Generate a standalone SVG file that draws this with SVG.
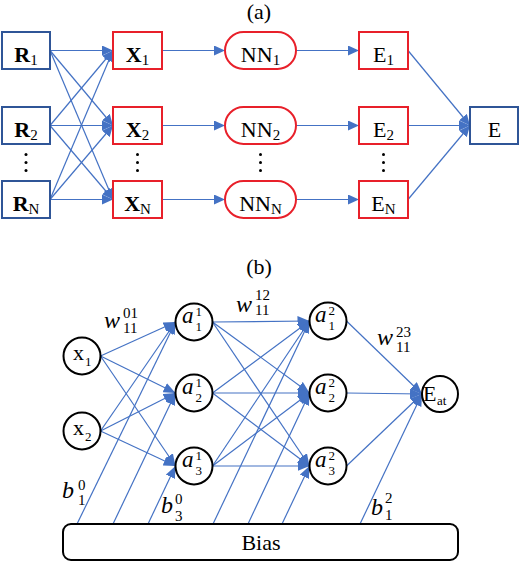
<svg xmlns="http://www.w3.org/2000/svg" width="520" height="562" viewBox="0 0 520 562">
<defs>
<style>
.bb{fill:#fff;stroke:#2F5597;stroke-width:2}
.rb{fill:#fff;stroke:#E8202A;stroke-width:2}
.cn{fill:#fff;stroke:#000;stroke-width:2}
.ln{stroke:#4472C4;stroke-width:1.2;fill:none;marker-end:url(#ah)}
.lnb{stroke:#4472C4;stroke-width:1.2;fill:none;marker-end:url(#ah2)}
.t{font-family:"Liberation Serif","Times New Roman","DejaVu Serif",serif;font-size:22px;fill:#000}
.tb{font-weight:bold}
.s{font-size:15px}
.mi{font-family:"Liberation Serif","Times New Roman","DejaVu Serif",serif;font-style:italic;font-size:24px;fill:#000}
.md{font-family:"Liberation Serif","Times New Roman","DejaVu Serif",serif;font-size:15px;fill:#000}
.ai{font-family:"Liberation Serif","Times New Roman","DejaVu Serif",serif;font-style:italic;font-size:23px;fill:#000}
.ad{font-family:"Liberation Serif","Times New Roman","DejaVu Serif",serif;font-size:13px;fill:#000}
.dot{fill:#000}
</style>
<marker id="ah" markerWidth="11" markerHeight="10" refX="11" refY="5" orient="auto" markerUnits="userSpaceOnUse"><path d="M0,0 L11,5 L0,10 z" fill="#4472C4"/></marker>
<marker id="ah2" markerWidth="12" markerHeight="10" refX="12" refY="5" orient="auto" markerUnits="userSpaceOnUse"><path d="M0,0 L12,5 L0,10 z" fill="#4472C4"/></marker>
</defs>
<rect width="520" height="562" fill="#fff"/>

<text class="t" x="259" y="19" text-anchor="middle" font-size="20">(a)</text>
<text class="t" x="259" y="274" text-anchor="middle" font-size="20">(b)</text>

<g id="connectors">
<line class="ln" x1="50" y1="50.5" x2="113" y2="50.5"/>
<line class="ln" x1="50" y1="50.5" x2="113" y2="125.5"/>
<line class="ln" x1="50" y1="50.5" x2="113" y2="199.5"/>
<line class="ln" x1="50" y1="125.5" x2="113" y2="50.5"/>
<line class="ln" x1="50" y1="125.5" x2="113" y2="125.5"/>
<line class="ln" x1="50" y1="125.5" x2="113" y2="199.5"/>
<line class="ln" x1="50" y1="199.5" x2="113" y2="50.5"/>
<line class="ln" x1="50" y1="199.5" x2="113" y2="125.5"/>
<line class="ln" x1="50" y1="199.5" x2="113" y2="199.5"/>
<line class="ln" x1="162" y1="50.5" x2="225" y2="50.5"/>
<line class="ln" x1="162" y1="125.5" x2="225" y2="125.5"/>
<line class="ln" x1="162" y1="199.5" x2="225" y2="199.5"/>
<line class="ln" x1="296" y1="50.5" x2="359" y2="50.5"/>
<line class="ln" x1="296" y1="125.5" x2="359" y2="125.5"/>
<line class="ln" x1="296" y1="199.5" x2="359" y2="199.5"/>
<line class="ln" x1="408" y1="50.5" x2="470" y2="125.5"/>
<line class="ln" x1="408" y1="125.5" x2="470" y2="125.5"/>
<line class="ln" x1="408" y1="199.5" x2="470" y2="125.5"/>

<line class="lnb" x1="100.5" y1="356" x2="175.5" y2="322"/>
<line class="lnb" x1="100.5" y1="356" x2="175.5" y2="393"/>
<line class="lnb" x1="100.5" y1="356" x2="175.5" y2="466"/>
<line class="lnb" x1="100.5" y1="431" x2="175.5" y2="322"/>
<line class="lnb" x1="100.5" y1="431" x2="175.5" y2="393"/>
<line class="lnb" x1="100.5" y1="431" x2="175.5" y2="466"/>
<line class="lnb" x1="212.5" y1="322" x2="309.5" y2="321"/>
<line class="lnb" x1="212.5" y1="322" x2="309.5" y2="393"/>
<line class="lnb" x1="212.5" y1="322" x2="309.5" y2="466"/>
<line class="lnb" x1="212.5" y1="393" x2="309.5" y2="321"/>
<line class="lnb" x1="212.5" y1="393" x2="309.5" y2="393"/>
<line class="lnb" x1="212.5" y1="393" x2="309.5" y2="466"/>
<line class="lnb" x1="212.5" y1="466" x2="309.5" y2="321"/>
<line class="lnb" x1="212.5" y1="466" x2="309.5" y2="393"/>
<line class="lnb" x1="212.5" y1="466" x2="309.5" y2="466"/>
<line class="lnb" x1="346.5" y1="321" x2="422" y2="394"/>
<line class="lnb" x1="346.5" y1="393" x2="422" y2="394"/>
<line class="lnb" x1="346.5" y1="466" x2="422" y2="394"/>
<line class="lnb" x1="77" y1="524" x2="175.5" y2="322"/>
<line class="lnb" x1="113" y1="524" x2="175.5" y2="393"/>
<line class="lnb" x1="148" y1="524" x2="175.5" y2="466"/>
<line class="lnb" x1="213" y1="524" x2="309.5" y2="321"/>
<line class="lnb" x1="248" y1="524" x2="309.5" y2="393"/>
<line class="lnb" x1="282" y1="524" x2="309.5" y2="466"/>
<line class="lnb" x1="360" y1="524" x2="422" y2="394"/>
</g>

<g id="R1"><rect class="bb" x="2" y="32" width="48" height="37"/><text class="t" x="26" y="62" text-anchor="middle"><tspan class="tb">R</tspan><tspan class="s" dy="3">1</tspan></text></g>
<g id="R2"><rect class="bb" x="2" y="107" width="48" height="37"/><text class="t" x="26" y="137" text-anchor="middle"><tspan class="tb">R</tspan><tspan class="s" dy="3">2</tspan></text></g>
<g id="RN"><rect class="bb" x="2" y="181" width="48" height="37"/><text class="t" x="26" y="211" text-anchor="middle"><tspan class="tb">R</tspan><tspan class="s" dy="3">N</tspan></text></g>

<g id="X1"><rect class="rb" x="113" y="32" width="49" height="37"/><text class="t" x="137.5" y="62" text-anchor="middle"><tspan class="tb">X</tspan><tspan class="s" dy="3">1</tspan></text></g>
<g id="X2"><rect class="rb" x="113" y="107" width="49" height="37"/><text class="t" x="137.5" y="137" text-anchor="middle"><tspan class="tb">X</tspan><tspan class="s" dy="3">2</tspan></text></g>
<g id="XN"><rect class="rb" x="113" y="181" width="49" height="37"/><text class="t" x="137.5" y="211" text-anchor="middle"><tspan class="tb">X</tspan><tspan class="s" dy="3">N</tspan></text></g>

<g id="NN1"><rect class="rb" x="225" y="32" width="71" height="37" rx="18.5"/><text class="t" x="260.5" y="62" text-anchor="middle">NN<tspan class="s" dy="3">1</tspan></text></g>
<g id="NN2"><rect class="rb" x="225" y="107" width="71" height="37" rx="18.5"/><text class="t" x="260.5" y="137" text-anchor="middle">NN<tspan class="s" dy="3">2</tspan></text></g>
<g id="NNN"><rect class="rb" x="225" y="181" width="71" height="37" rx="18.5"/><text class="t" x="260.5" y="211" text-anchor="middle">NN<tspan class="s" dy="3">N</tspan></text></g>

<g id="E1"><rect class="rb" x="359" y="32" width="49" height="37"/><text class="t" x="383.5" y="62" text-anchor="middle">E<tspan class="s" dy="3">1</tspan></text></g>
<g id="E2"><rect class="rb" x="359" y="107" width="49" height="37"/><text class="t" x="383.5" y="137" text-anchor="middle">E<tspan class="s" dy="3">2</tspan></text></g>
<g id="EN"><rect class="rb" x="359" y="181" width="49" height="37"/><text class="t" x="383.5" y="211" text-anchor="middle">E<tspan class="s" dy="3">N</tspan></text></g>

<g id="E"><rect class="bb" x="470" y="107" width="48" height="37"/><text class="t" x="494.5" y="137" text-anchor="middle">E</text></g>

<g id="dots">
<circle class="dot" cx="26" cy="154.5" r="1.5"/><circle class="dot" cx="26" cy="162.5" r="1.5"/><circle class="dot" cx="26" cy="170.5" r="1.5"/>
<circle class="dot" cx="137.5" cy="154.5" r="1.5"/><circle class="dot" cx="137.5" cy="162.5" r="1.5"/><circle class="dot" cx="137.5" cy="170.5" r="1.5"/>
<circle class="dot" cx="260.5" cy="154.5" r="1.5"/><circle class="dot" cx="260.5" cy="162.5" r="1.5"/><circle class="dot" cx="260.5" cy="170.5" r="1.5"/>
<circle class="dot" cx="383.5" cy="154.5" r="1.5"/><circle class="dot" cx="383.5" cy="162.5" r="1.5"/><circle class="dot" cx="383.5" cy="170.5" r="1.5"/>
</g>

<g id="x1"><circle class="cn" cx="82" cy="356" r="18.5"/><text class="t" x="73" y="360">x</text><text class="ad" x="85" y="366" font-size="14">1</text></g>
<g id="x2"><circle class="cn" cx="82" cy="431" r="18.5"/><text class="t" x="73" y="435">x</text><text class="ad" x="85" y="441" font-size="14">2</text></g>

<g id="a11"><circle class="cn" cx="194" cy="322" r="18.5"/><text class="ai" x="182" y="323">a</text><text class="ad" x="195.5" y="316">1</text><text class="ad" x="195.5" y="331">1</text></g>
<g id="a21"><circle class="cn" cx="194" cy="393" r="18.5"/><text class="ai" x="182" y="394">a</text><text class="ad" x="195.5" y="387">1</text><text class="ad" x="195.5" y="402">2</text></g>
<g id="a31"><circle class="cn" cx="194" cy="466" r="18.5"/><text class="ai" x="182" y="467">a</text><text class="ad" x="195.5" y="460">1</text><text class="ad" x="195.5" y="475">3</text></g>

<g id="a12"><circle class="cn" cx="328" cy="321" r="18.5"/><text class="ai" x="315" y="322">a</text><text class="ad" x="328.5" y="315">2</text><text class="ad" x="328.5" y="330">1</text></g>
<g id="a22"><circle class="cn" cx="328" cy="393" r="18.5"/><text class="ai" x="315" y="394">a</text><text class="ad" x="328.5" y="387">2</text><text class="ad" x="328.5" y="402">2</text></g>
<g id="a32"><circle class="cn" cx="328" cy="466" r="18.5"/><text class="ai" x="315" y="467">a</text><text class="ad" x="328.5" y="460">2</text><text class="ad" x="328.5" y="475">3</text></g>

<g id="Eat"><circle class="cn" cx="440" cy="394" r="18"/><text class="t" x="423" y="401" font-size="21">E</text><text class="ad" x="437" y="405">at</text></g>

<g id="Bias"><rect x="63" y="524" width="395" height="36" rx="8" fill="#fff" stroke="#000" stroke-width="2"/><text class="t" x="261" y="550" text-anchor="middle">Bias</text></g>

<g id="labels">
<text class="mi" x="104" y="328">w</text><text class="md" x="123" y="318">01</text><text class="md" x="123" y="333">11</text>
<text class="mi" x="236" y="312">w</text><text class="md" x="255" y="300">12</text><text class="md" x="255" y="315">11</text>
<text class="mi" x="377" y="345">w</text><text class="md" x="396" y="337">23</text><text class="md" x="396" y="352">11</text>
<text class="mi" x="62" y="498">b</text><text class="md" x="78" y="490">0</text><text class="md" x="78" y="505">1</text>
<text class="mi" x="161" y="513">b</text><text class="md" x="175" y="504" font-size="14">0</text><text class="md" x="175" y="521" font-size="14">3</text>
<text class="mi" x="371" y="515">b</text><text class="md" x="385" y="503">2</text><text class="md" x="385" y="520">1</text>
</g>
</svg>
